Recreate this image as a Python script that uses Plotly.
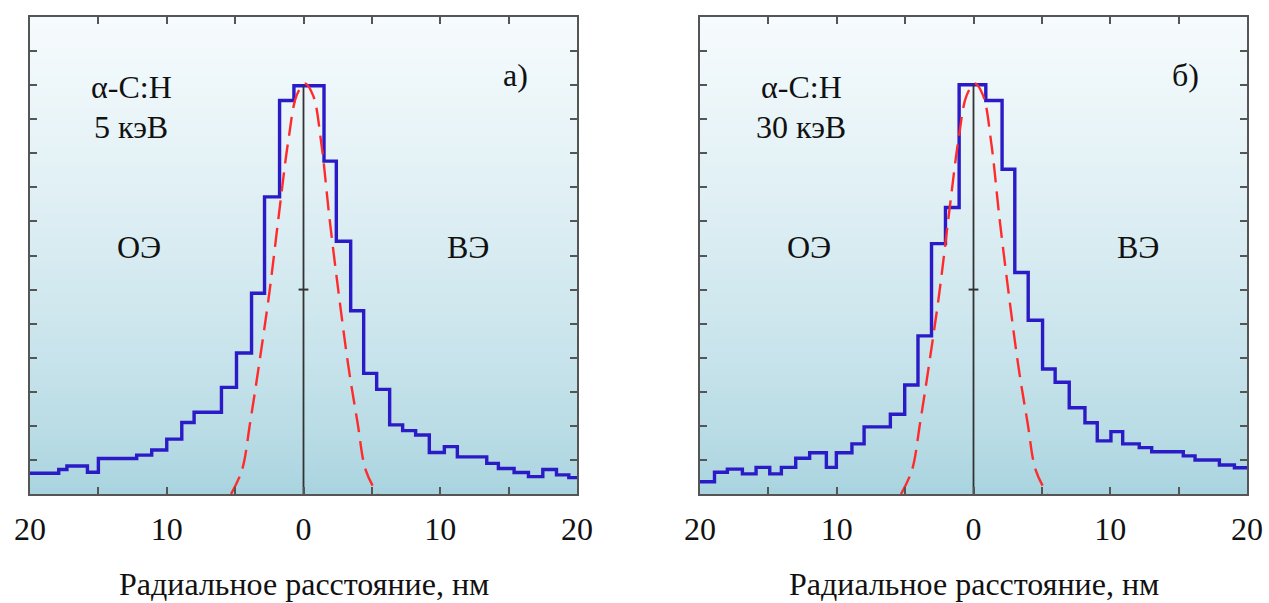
import plotly.graph_objects as go

# ---------------- data ----------------
# panel a) 5 keV : histogram bin edges (nm) and heights (arb. units)
edges_a = [-20, -17.9, -17.3, -15.8, -15.0, -12.2, -11.1, -10.0, -8.9, -8.0,
           -6.0, -4.9, -3.8, -2.85, -1.75, -0.7, 1.5, 2.4, 3.45, 4.4,
           5.35, 6.3, 7.25, 8.2, 9.2, 10.3, 11.25, 13.4, 14.25, 15.4,
           16.45, 17.5, 18.5, 19.4, 20.0]
heights_a = [0.61, 0.72, 0.82, 0.64, 1.04, 1.14, 1.29, 1.61, 2.10, 2.40,
             3.13, 4.14, 5.89, 8.72, 11.55, 11.98, 9.77, 7.42, 5.38, 3.54,
             3.07, 2.03, 1.86, 1.73, 1.22, 1.39, 1.09, 0.90, 0.75, 0.63,
             0.51, 0.72, 0.56, 0.48]

# panel б) 30 keV
edges_b = [-20, -18.94, -18.0, -16.9, -15.9, -14.9, -14.05, -13.0, -11.98, -10.76,
           -10.03, -8.89, -8.0, -6.08, -5.03, -4.06, -3.07, -2.05, -1.05, 0.9,
           2.09, 3.02, 4.0, 5.05, 5.97, 7.0, 8.15, 9.05, 10.05, 10.91,
           12.12, 13.03, 15.34, 16.2, 17.98, 19.08, 20.0]
heights_b = [0.36, 0.64, 0.73, 0.59, 0.78, 0.59, 0.78, 1.05, 1.21, 0.78,
             1.21, 1.47, 1.97, 2.34, 3.20, 4.64, 7.35, 8.41, 12.01, 11.55,
             9.53, 6.50, 5.10, 3.67, 3.28, 2.53, 2.09, 1.56, 1.83, 1.47,
             1.36, 1.24, 1.12, 1.00, 0.85, 0.77]

# red dashed reference profile (read point by point)
red_x = [-5.3, -4.5, -3.9, -3.25, -2.5, -1.8, -1.1, -0.5, 0.1, 0.7,
         1.3, 1.9, 2.6, 3.3, 3.95, 4.55, 5.4]
red_y = [0.0, 0.7, 2.1, 3.8, 5.9, 8.2, 10.4, 11.7, 12.05, 11.7,
         10.3, 8.1, 5.8, 3.7, 2.1, 0.7, 0.0]

x_tickvals = [-20, -15, -10, -5, 0, 5, 10, 15, 20]
x_ticktext = ["20", "", "10", "", "0", "", "10", "", "20"]

# ---------------- styling ----------------
FONT = "'Liberation Serif', 'Times New Roman', 'DejaVu Serif', serif"
W, H = 1269, 603
dom_a = [30 / W, 577 / W]
dom_b = [700 / W, 1247 / W]
dom_y = [1 - 494 / H, 1 - 17 / H]

BLUE = "#2b1bc6"
RED = "#ff2b2b"
FRAME = "#555555"

fig = go.Figure()


def add_panel(xa, ya, edges, heights):
    fig.add_trace(go.Scatter(
        x=edges, y=list(heights) + [heights[-1]], mode="lines",
        line=dict(color=BLUE, width=3.4, shape="hv"),
        xaxis=xa, yaxis=ya, showlegend=False, hoverinfo="skip"))
    fig.add_trace(go.Scatter(
        x=red_x, y=red_y, mode="lines",
        line=dict(color=RED, width=2.4, dash="19px,9px", shape="spline"),
        xaxis=xa, yaxis=ya, showlegend=False, hoverinfo="skip"))
    fig.add_trace(go.Scatter(
        x=[0, 0], y=[0, max(heights)], mode="lines",
        line=dict(color="#333333", width=1.8),
        xaxis=xa, yaxis=ya, showlegend=False, hoverinfo="skip"))
    fig.add_trace(go.Scatter(
        x=[0], y=[6], mode="markers",
        marker=dict(symbol="line-ew", size=7, line=dict(color="#333333", width=2)),
        xaxis=xa, yaxis=ya, showlegend=False, hoverinfo="skip"))


add_panel("x", "y", edges_a, heights_a)
add_panel("x2", "y2", edges_b, heights_b)

# gradient background bands
bot = (166, 210, 222)
top = (246, 251, 253)
N = 80
shapes = []
for xr, yr in (("x domain", "y domain"), ("x2 domain", "y2 domain")):
    for i in range(N):
        t = (i + 0.5) / N
        f = t ** 0.7
        c = tuple(int(round(b + (tp - b) * f)) for b, tp in zip(bot, top))
        shapes.append(dict(type="rect", xref=xr, yref=yr,
                           x0=0, x1=1, y0=i / N, y1=(i + 1) / N + 0.002,
                           fillcolor="rgb(%d,%d,%d)" % c, line=dict(width=0),
                           layer="below"))

axis_common = dict(showline=True, linecolor=FRAME, linewidth=2, mirror="ticks",
                   ticks="inside", ticklen=7, tickwidth=2, tickcolor=FRAME,
                   showgrid=False, zeroline=False, automargin=False)

xaxis_cfg = dict(axis_common, range=[-20, 20], tickmode="array",
                 tickvals=x_tickvals, ticktext=x_ticktext,
                 tickfont=dict(family=FONT, size=32, color="#111111"),
                 ticklabelstandoff=6)
yaxis_cfg = dict(axis_common, range=[0, 14], dtick=1, tick0=0, showticklabels=False)

fig.update_layout(
    width=W, height=H,
    margin=dict(l=0, r=0, t=0, b=0, autoexpand=False),
    paper_bgcolor="white", plot_bgcolor="white",
    font=dict(family=FONT),
    xaxis=dict(xaxis_cfg, domain=dom_a, anchor="y"),
    yaxis=dict(yaxis_cfg, domain=dom_y, anchor="x"),
    xaxis2=dict(xaxis_cfg, domain=dom_b, anchor="y2"),
    yaxis2=dict(yaxis_cfg, domain=dom_y, anchor="x2"),
    shapes=shapes,
)

tf = dict(family=FONT, size=32, color="#111111")
ann = []
for xr, yr, energy, label in (("x", "y", "5 кэВ", "а)"), ("x2", "y2", "30 кэВ", "б)")):
    ann += [
        dict(xref=xr, yref=yr, x=-12.6, y=11.94, text="α-C:H"),
        dict(xref=xr, yref=yr, x=-12.6, y=10.76, text=energy),
        dict(xref=xr, yref=yr, x=-12.0, y=7.24, text="ОЭ"),
        dict(xref=xr, yref=yr, x=12.0, y=7.24, text="ВЭ"),
        dict(xref=xr, yref=yr, x=15.5, y=12.3, text=label),
    ]
ann += [
    dict(xref="paper", yref="paper", x=(dom_a[0] + dom_a[1]) / 2, y=1 - 584 / H,
         text="Радиальное расстояние, нм"),
    dict(xref="paper", yref="paper", x=(dom_b[0] + dom_b[1]) / 2, y=1 - 584 / H,
         text="Радиальное расстояние, нм"),
]
for a in ann:
    a.update(showarrow=False, font=tf, xanchor="center", yanchor="middle")
fig.update_layout(annotations=ann)

fig.write_html("out.html")
